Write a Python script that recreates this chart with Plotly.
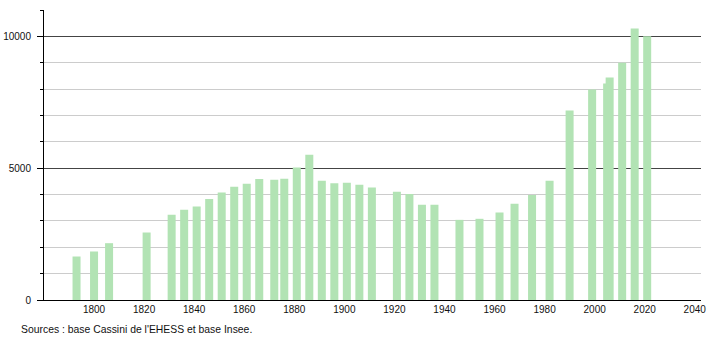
import plotly.graph_objects as go

years = [1793, 1800, 1806, 1821, 1831, 1836, 1841, 1846, 1851, 1856, 1861, 1866,
         1872, 1876, 1881, 1886, 1891, 1896, 1901, 1906, 1911, 1921, 1926, 1931,
         1936, 1946, 1954, 1962, 1968, 1975, 1982, 1990, 1999, 2005, 2006, 2011,
         2016, 2021]
population = [1650, 1840, 2155, 2560, 3230, 3420, 3550, 3830, 4080, 4300, 4410, 4590,
              4560, 4600, 5030, 5510, 4525, 4425, 4450, 4375, 4270, 4105, 4020, 3610,
              3610, 3040, 3080, 3320, 3650, 3980, 4525, 7190, 7985, 8210, 8440, 9000,
              10300, 10000]
x_ticks = [1800, 1820, 1840, 1860, 1880, 1900, 1920, 1940, 1960, 1980, 2000, 2020, 2040]
y_ticks = [0, 5000, 10000]
source_text = "Sources : base Cassini de l'EHESS et base Insee."

font = "Liberation Sans, Arial, sans-serif"

fig = go.Figure()
fig.add_trace(go.Bar(
    x=years, y=population, width=3.2,
    marker=dict(color="#b2e3b4", line=dict(width=0)),
    hoverinfo="x+y",
))

fig.update_layout(
    width=710, height=340,
    margin=dict(l=44, r=9, t=10, b=40, autoexpand=False),
    paper_bgcolor="white", plot_bgcolor="white",
    showlegend=False,
    font=dict(family=font, size=10, color="#111"),
    barmode="overlay",
)
fig.update_xaxes(
    range=[1780, 2042.5], tickvals=x_ticks, ticktext=[str(v) for v in x_ticks],
    showgrid=False, zeroline=False, showline=True, linecolor="#000", linewidth=1,
    ticks="", ticklen=0, tickfont=dict(size=10, family=font), automargin=False,
)
fig.update_yaxes(
    range=[0, 11000], tickvals=y_ticks, ticktext=[str(v) for v in y_ticks],
    showgrid=True, gridcolor="#444", gridwidth=1, zeroline=False,
    showline=True, linecolor="#000", linewidth=1,
    ticks="outside", ticklen=6, tickcolor="#000", ticklabelstandoff=4,
    minor=dict(dtick=1000, tick0=0, showgrid=True, gridcolor="#cccccc", gridwidth=1,
               ticks="outside", ticklen=3, tickcolor="#000"),
    tickfont=dict(size=10, family=font), automargin=False,
)
fig.add_annotation(
    text=source_text, xref="paper", yref="paper", x=-0.038, y=-0.076,
    xanchor="left", yanchor="top", showarrow=False,
    font=dict(size=10.4, family=font, color="#111"),
)

fig.write_html("out.html")
